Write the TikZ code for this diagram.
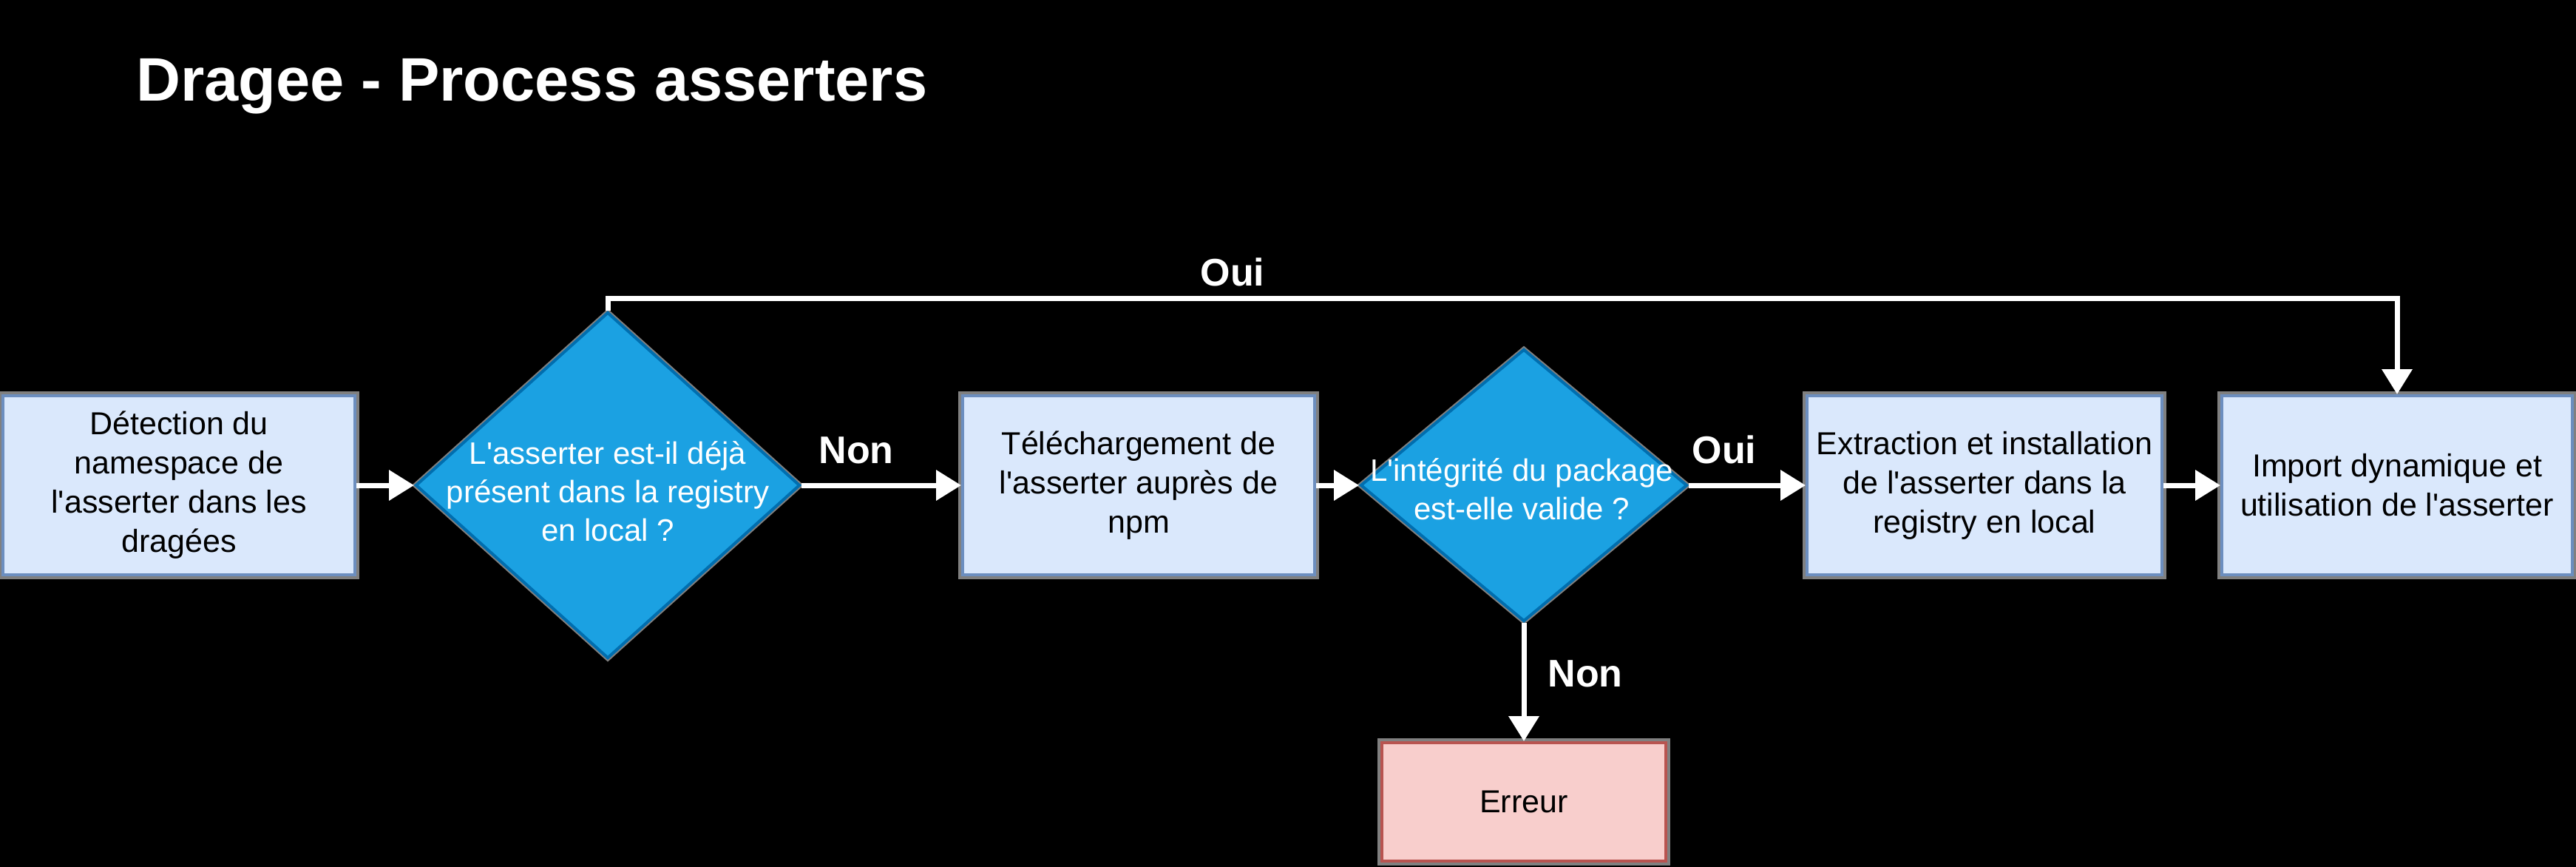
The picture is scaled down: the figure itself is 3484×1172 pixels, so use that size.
\documentclass[tikz,border=0pt]{standalone}
\usepackage{fontspec}
\setmainfont{Liberation Sans}[Ligatures=TeXOff]
\usetikzlibrary{shapes.geometric,arrows.meta}
\definecolor{boxfill}{HTML}{DAE8FC}
\definecolor{boxline}{HTML}{6C8EBF}
\definecolor{diafill}{HTML}{1BA1E2}
\definecolor{dialine}{HTML}{006EAF}
\definecolor{errfill}{HTML}{F8CECC}
\definecolor{errline}{HTML}{B85450}
\definecolor{shadowgray}{HTML}{808080}
\begin{document}
\begin{tikzpicture}[x=1pt,y=-1pt,
  shadowed/.style={preaction={draw=shadowgray,line width=12pt}},
  procbox/.style={shadowed,rectangle,fill=boxfill,draw=boxline,line width=4pt,
    minimum width=476pt,minimum height=242pt,inner sep=0pt,align=center,text=black,
    font=\fontsize{43}{53}\selectfont},
  errbox/.style={procbox,fill=errfill,draw=errline,minimum width=384pt,minimum height=160pt},
  decision/.style={preaction={draw=shadowgray,line width=8pt},diamond,fill=diafill,draw=dialine,line width=4pt,inner sep=0pt},
  dectext/.style={align=center,text=white,inner sep=0pt,font=\fontsize{42}{52}\selectfont},
  flow/.style={draw=white,line width=7pt,-{Triangle[width=40pt,length=34pt]}},
  lbl/.style={text=white,font=\bfseries\fontsize{52}{60}\selectfont,inner sep=0pt},
  titlestyle/.style={text=white,font=\bfseries\fontsize{83}{92}\selectfont,inner sep=0pt},
]
\useasboundingbox (0,0) rectangle (3484,1172);
\fill[black] (0,0) rectangle (3484,1172);

\node[titlestyle,anchor=base west] (title) at (184,136) {Dragee - Process asserters};

\node[procbox] (b1) at (242,656) {Détection du\\namespace de\\l'asserter dans les\\dragées};
\node[decision,minimum width=520pt,minimum height=468pt] (d1) at (822,656) {};
\node[dectext] (t1) at (822,664) {L'asserter est-il déjà\\présent dans la registry\\en local ?};
\node[procbox] (b2) at (1540,656) {Téléchargement de\\l'asserter auprès de\\npm};
\node[decision,minimum width=442pt,minimum height=368pt] (d2) at (2061,656) {};
\node[dectext] (t2) at (2058,661) {L'intégrité du package\\est-elle valide ?};
\node[procbox,minimum width=480pt] (b3) at (2684,656) {Extraction et installation\\de l'asserter dans la\\registry en local};
\node[procbox,minimum width=474pt] (b4) at (3242,656) {Import dynamique et\\utilisation de l'asserter};
\node[errbox] (err) at (2061,1084) {Erreur};

\coordinate (top) at (822,403);

\draw[flow] (b1) -- (d1);
\draw[flow] (d1) -- (b2);
\draw[flow] (b2) -- (d2);
\draw[flow] (d2) -- (b3);
\draw[flow] (b3) -- (b4);
\draw[flow] (d1.north) -- (top) -| (b4.north);
\draw[flow] (d2.south) -- (err.north);

\node[lbl] (non1) at (1158,609) {Non};
\node[lbl] (oui1) at (2332,608) {Oui};
\node[lbl] (oui2) at (1667,368) {Oui};
\node[lbl] (non2) at (2144,911) {Non};
\end{tikzpicture}
\end{document}
